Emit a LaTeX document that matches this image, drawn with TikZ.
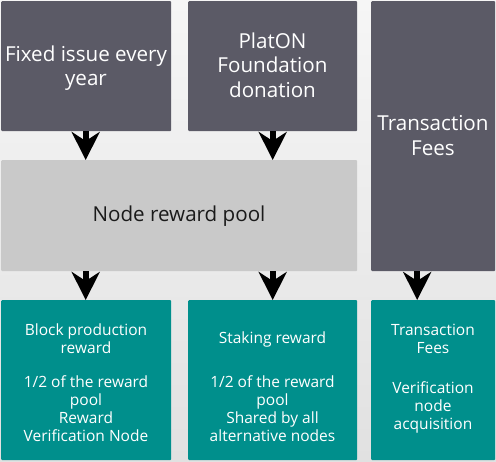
\documentclass[tikz,border=0pt]{standalone}
\usepackage{fontspec}
\setmainfont{Open Sans}
\usetikzlibrary{arrows.meta}
\definecolor{darkbox}{HTML}{5B5A66}
\definecolor{poolbox}{HTML}{C9C9C9}
\definecolor{tealbox}{HTML}{008F8C}
\definecolor{bgtop}{HTML}{F6F6F6}
\definecolor{bgbot}{HTML}{E1E1E1}
\definecolor{pooltext}{HTML}{1A1A1A}
\tikzset{
  boxbase/.style={draw=none, rectangle, rounded corners=1pt, inner sep=0pt, anchor=north west},
  darkstyle/.style={boxbase, fill=darkbox},
  poolstyle/.style={boxbase, fill=poolbox},
  tealstyle/.style={boxbase, fill=tealbox},
  bigtext/.style={inner sep=0pt, align=center, text=white, font=\fontsize{20.6}{24.5}\selectfont},
  smalltext/.style={inner sep=0pt, align=center, text=white, font=\fontsize{15.5}{18}\selectfont},
  flowarrow/.style={line width=6pt, -{Stealth[length=28pt, width=28pt, inset=9pt]}, black},
}
\begin{document}
\begin{tikzpicture}[x=1pt, y=-1pt]
\useasboundingbox (0,0) rectangle (496,462);
\shade[top color=bgtop, bottom color=bgbot] (0,0) rectangle (496,462);
% top row
\node[darkstyle, minimum width=170pt, minimum height=130pt] (fixed) at (1,1) {};
\node[darkstyle, minimum width=169pt, minimum height=130pt] (found) at (188,1) {};
\node[darkstyle, minimum width=124pt, minimum height=270pt] (fees) at (371,1) {};
% pool
\node[poolstyle, minimum width=356pt, minimum height=111pt] (pool) at (1,160) {};
% bottom row
\node[tealstyle, minimum width=170pt, minimum height=160pt] (block) at (1,300) {};
\node[tealstyle, minimum width=169pt, minimum height=160pt] (stake) at (188,300) {};
\node[tealstyle, minimum width=124pt, minimum height=160pt] (acq) at (371,300) {};
% texts
\node[bigtext] (tfixed) at (86,68) {Fixed issue every\\year};
\node[bigtext] (tfound) at (272.5,65) {PlatON\\Foundation\\donation};
\node[bigtext] (tfees) at (433,135.3) {Transaction\\Fees};
\node[bigtext, text=pooltext, anchor=base] (tpool) at (179,222) {Node reward pool};
\node[smalltext] (tblock) at (86,382.3) {Block production\\reward\\[16pt]1/2 of the reward\\pool\\Reward\\Verification Node};
\node[smalltext] (tstake) at (272.5,386.3) {Staking reward\\[26pt]1/2 of the reward\\pool\\Shared by all\\alternative nodes};
\node[smalltext] (tacq) at (433,378.5) {Transaction\\Fees\\[22pt]Verification\\node\\acquisition};
% arrows
\draw[flowarrow] ([xshift=-0.5pt]fixed.south) -- ([xshift=-0.5pt]fixed.south |- pool.north);
\draw[flowarrow] (found.south) -- (found.south |- pool.north);
\draw[flowarrow] ([xshift=-0.5pt]pool.south -| fixed.south) -- ([xshift=-0.5pt]block.north);
\draw[flowarrow] (pool.south -| found.south) -- (stake.north);
\draw[flowarrow] ([xshift=-16pt]fees.south) -- ([xshift=-16pt]acq.north);
\end{tikzpicture}
\end{document}
